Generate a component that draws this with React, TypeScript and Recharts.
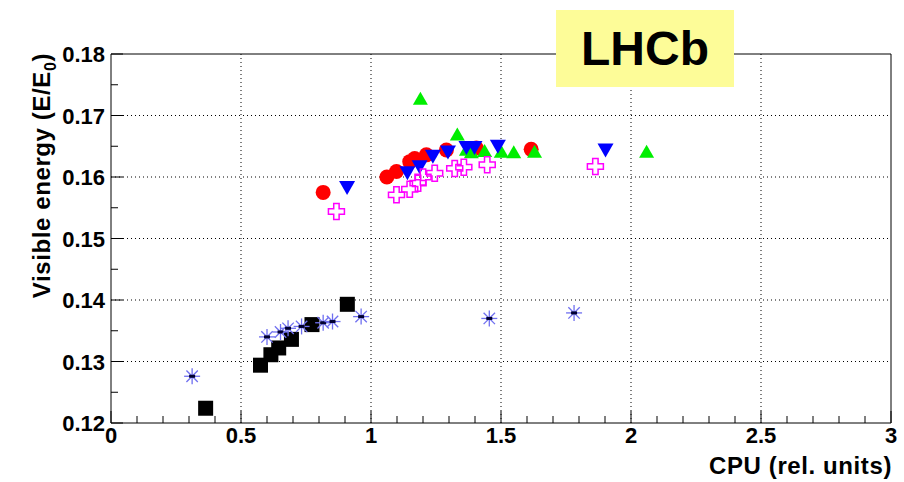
import React from "react";
import { ScatterChart, Scatter, XAxis, YAxis, ReferenceLine } from "recharts";

// black squares
const squareCpu = [0.364, 0.575, 0.615, 0.645, 0.694, 0.773, 0.909];
const squareEnergy = [0.1224, 0.1294, 0.1311, 0.1322, 0.1336, 0.136, 0.1393];

// blue asterisks
const starCpu = [0.312, 0.6, 0.652, 0.681, 0.733, 0.816, 0.852, 0.962, 1.455, 1.781];
const starEnergy = [0.1276, 0.134, 0.1348, 0.1354, 0.1357, 0.1363, 0.1365, 0.1373, 0.137, 0.1379];

// red circles
const circleCpu = [0.816, 1.061, 1.098, 1.149, 1.168, 1.213, 1.29, 1.405, 1.616];
const circleEnergy = [0.1575, 0.16, 0.1609, 0.1625, 0.163, 0.1636, 0.1644, 0.1647, 0.1645];

// green triangles (up)
const upCpu = [1.19, 1.332, 1.367, 1.386, 1.437, 1.501, 1.549, 1.629, 2.06];
const upEnergy = [0.1728, 0.167, 0.1645, 0.1641, 0.1643, 0.1642, 0.1641, 0.1642, 0.1642];

// blue triangles (down)
const downCpu = [0.908, 1.14, 1.187, 1.238, 1.296, 1.367, 1.398, 1.488, 1.902];
const downEnergy = [0.1582, 0.1606, 0.1616, 0.1633, 0.164, 0.1647, 0.1647, 0.1649, 0.1643];

// magenta open crosses
const crossCpu = [0.867, 1.098, 1.149, 1.181, 1.2, 1.245, 1.322, 1.357, 1.447, 1.863];
const crossEnergy = [0.1544, 0.1571, 0.158, 0.159, 0.16, 0.1606, 0.1614, 0.1616, 0.162, 0.1617];

const xTicks = [
  0, 0.1, 0.2, 0.3, 0.4, 0.5, 0.6, 0.7, 0.8, 0.9, 1, 1.1, 1.2, 1.3, 1.4, 1.5,
  1.6, 1.7, 1.8, 1.9, 2, 2.1, 2.2, 2.3, 2.4, 2.5, 2.6, 2.7, 2.8, 2.9, 3,
];
const xMajor = [0, 0.5, 1, 1.5, 2, 2.5, 3];
const xTickLabels = ["0", "0.5", "1", "1.5", "2", "2.5", "3"];
const yTicks = [0.12, 0.125, 0.13, 0.135, 0.14, 0.145, 0.15, 0.155, 0.16, 0.165, 0.17, 0.175, 0.18];
const yMajor = [0.12, 0.13, 0.14, 0.15, 0.16, 0.17, 0.18];
const yTickLabels = ["0.12", "0.13", "0.14", "0.15", "0.16", "0.17", "0.18"];
const xGrid = [0.5, 1, 1.5, 2, 2.5];
const yGrid = [0.13, 0.14, 0.15, 0.16, 0.17];

const FONT = '"Liberation Sans", Arial, Helvetica, sans-serif';

const toPoints = (xs: number[], ys: number[]) => xs.map((x, i) => ({ x, y: ys[i] }));

function labelFor(v: number, majors: number[], labels: string[]) {
  const i = majors.findIndex((m) => Math.abs(m - v) < 1e-6);
  return i >= 0 ? labels[i] : null;
}

function XTick(props: any) {
  const { x, y, payload } = props;
  const lab = labelFor(payload.value, xMajor, xTickLabels);
  return (
    <g>
      <line x1={x} x2={x} y1={y} y2={y - (lab ? 12 : 7)} stroke="#000" />
      {lab && (
        <text x={x} y={y + 20} textAnchor="middle" fontFamily={FONT} fontWeight="bold" fontSize={22} fill="#000">
          {lab}
        </text>
      )}
    </g>
  );
}

function YTick(props: any) {
  const { x, y, payload } = props;
  const lab = labelFor(payload.value, yMajor, yTickLabels);
  return (
    <g>
      <line x1={x} x2={x + (lab ? 12 : 7)} y1={y} y2={y} stroke="#000" />
      {lab && (
        <text x={x - 6} y={y + 8} textAnchor="end" fontFamily={FONT} fontWeight="bold" fontSize={22} fill="#000">
          {lab}
        </text>
      )}
    </g>
  );
}

function XTitle(props: any) {
  const vb = props.viewBox || { x: 111, y: 423, width: 780, height: 59 };
  return (
    <text
      x={vb.x + vb.width + 1}
      y={vb.y + 51}
      textAnchor="end"
      fontFamily={FONT}
      fontWeight="bold"
      fontSize={24}
      letterSpacing={0.6}
      fill="#000"
    >
      CPU (rel. units)
    </text>
  );
}

function YTitle(props: any) {
  const vb = props.viewBox || { x: 0, y: 54, width: 111, height: 369 };
  return (
    <text
      transform={`translate(${vb.x + 50},${vb.y - 1}) rotate(-90)`}
      textAnchor="end"
      fontFamily={FONT}
      fontWeight="bold"
      fontSize={24}
      letterSpacing={0.6}
      fill="#000"
    >
      Visible energy (E/E
      <tspan dy={6} fontSize={16}>0</tspan>
      <tspan dy={-6}>)</tspan>
    </text>
  );
}

// marker shapes, ROOT style
const Square = ({ cx, cy }: any) => <rect x={cx - 7.5} y={cy - 7.5} width={15} height={15} fill="#000" />;

const Star = ({ cx, cy }: any) => {
  const r = 8;
  const d = 5.7;
  return (
    <g stroke="#6f6ff0" strokeWidth={1.3}>
      <line x1={cx - r} y1={cy} x2={cx + r} y2={cy} />
      <line x1={cx} y1={cy - r} x2={cx} y2={cy + r} />
      <line x1={cx - d} y1={cy - d} x2={cx + d} y2={cy + d} />
      <line x1={cx - d} y1={cy + d} x2={cx + d} y2={cy - d} />
      <rect x={cx - 3} y={cy - 1.5} width={6} height={3} fill="#000030" stroke="none" />
    </g>
  );
};

const Dot = ({ cx, cy }: any) => <circle cx={cx} cy={cy} r={7.5} fill="#ff0000" />;

const Down = ({ cx, cy }: any) => (
  <polygon points={`${cx - 8},${cy - 7} ${cx + 8},${cy - 7} ${cx},${cy + 7}`} fill="#0000ff" />
);

const Up = ({ cx, cy }: any) => (
  <polygon points={`${cx - 7.5},${cy + 6.5} ${cx + 7.5},${cy + 6.5} ${cx},${cy - 6.5}`} fill="#00ee00" />
);

const Cross = ({ cx, cy }: any) => {
  const a = 8;
  const b = 2.7;
  const pts = [
    [-b, -a], [b, -a], [b, -b], [a, -b], [a, b], [b, b],
    [b, a], [-b, a], [-b, b], [-a, b], [-a, -b], [-b, -b],
  ]
    .map(([dx, dy]) => `${cx + dx},${cy + dy}`)
    .join(" ");
  return <polygon points={pts} fill="none" stroke="#ff00ff" strokeWidth={1.5} />;
};

export default function App() {
  return (
    <div style={{ position: "absolute", left: 0, top: 0, width: 904, height: 482, background: "#fff" }}>
      <ScatterChart width={904} height={482} margin={{ top: 54, right: 13, bottom: 0, left: 0 }}>
        <XAxis
          type="number"
          dataKey="x"
          domain={[0, 3]}
          ticks={xTicks}
          interval={0}
          tickSize={0}
          tickMargin={0}
          tickLine={false}
          tick={<XTick />}
          axisLine={{ stroke: "#000" }}
          height={59}
          allowDataOverflow
          label={<XTitle />}
        />
        <YAxis
          type="number"
          dataKey="y"
          domain={[0.12, 0.18]}
          ticks={yTicks}
          interval={0}
          tickSize={0}
          tickMargin={0}
          tickLine={false}
          tick={<YTick />}
          axisLine={{ stroke: "#000" }}
          width={111}
          allowDataOverflow
          label={<YTitle />}
        />
        {xGrid.map((v) => (
          <ReferenceLine key={"gx" + v} x={v} stroke="#000" strokeDasharray="1 3" />
        ))}
        {yGrid.map((v) => (
          <ReferenceLine key={"gy" + v} y={v} stroke="#000" strokeDasharray="1 3" />
        ))}
        <ReferenceLine y={0.18} stroke="#000" />
        <ReferenceLine x={3} stroke="#000" />
        <Scatter data={toPoints(squareCpu, squareEnergy)} shape={Square} isAnimationActive={false} />
        <Scatter data={toPoints(starCpu, starEnergy)} shape={Star} isAnimationActive={false} />
        <Scatter data={toPoints(circleCpu, circleEnergy)} shape={Dot} isAnimationActive={false} />
        <Scatter data={toPoints(upCpu, upEnergy)} shape={Up} isAnimationActive={false} />
        <Scatter data={toPoints(downCpu, downEnergy)} shape={Down} isAnimationActive={false} />
        <Scatter data={toPoints(crossCpu, crossEnergy)} shape={Cross} isAnimationActive={false} />
      </ScatterChart>
      <div
        style={{
          position: "absolute",
          left: 556,
          top: 10,
          width: 178,
          height: 77,
          background: "#fdfc98",
          display: "flex",
          alignItems: "center",
          justifyContent: "center",
          fontFamily: FONT,
          fontWeight: "bold",
          fontSize: 48,
          color: "#000",
        }}
      >
        LHCb
      </div>
    </div>
  );
}
